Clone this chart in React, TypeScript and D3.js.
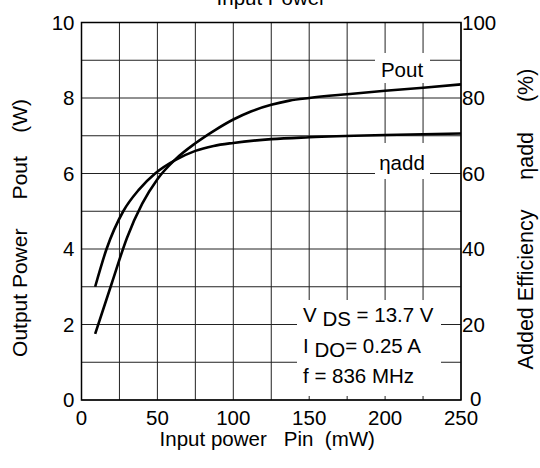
import React from "react";
import * as d3 from "d3";

const pinTicks = [0, 50, 100, 150, 200, 250];
const poutTicks = [0, 2, 4, 6, 8, 10];
const effTicks = [0, 20, 40, 60, 80, 100];

const poutPin = [9, 20, 30, 40, 50, 62, 75, 88, 100, 112, 125, 137, 150, 175, 200, 225, 250];
const poutVal = [1.75, 3.1, 4.3, 5.2, 5.85, 6.38, 6.8, 7.15, 7.43, 7.65, 7.82, 7.93, 8.0, 8.1, 8.19, 8.27, 8.36];

const effPin = [9, 16.5, 27.5, 38, 48.5, 62, 75, 87, 100, 125, 150, 200, 250];
const effVal = [30, 40, 50, 55.8, 60, 63.6, 66, 67.3, 68.1, 69.1, 69.6, 70.2, 70.6];

const W = 540, H = 468;
const L = 81.5, R = 461, T = 22.5, B = 400;
const FONT = "'Liberation Sans', Arial, Helvetica, sans-serif";
const FS = 20.5;

export default function App() {
  const x = d3.scaleLinear().domain([0, 250]).range([L, R]);
  const yL = d3.scaleLinear().domain([0, 10]).range([B, T]);
  const yR = d3.scaleLinear().domain([0, 100]).range([B, T]);

  const lineP = d3.line<number>().x((_, i) => x(poutPin[i])).y((d) => yL(d)).curve(d3.curveMonotoneX);
  const lineE = d3.line<number>().x((_, i) => x(effPin[i])).y((d) => yR(d)).curve(d3.curveMonotoneX);

  const xGrid = d3.range(0, 251, 25);
  const yGrid = d3.range(0, 11, 1);

  return (
    <svg width={W} height={H} style={{ position: "absolute", left: 0, top: 0, background: "#fff" }} fontFamily={FONT}>
      <rect x={0} y={0} width={W} height={H} fill="#fff" />
      {xGrid.map((v) => (
        <line key={"gx" + v} x1={x(v)} x2={x(v)} y1={T} y2={B} stroke="#222" strokeWidth={1} />
      ))}
      {yGrid.map((v) => (
        <line key={"gy" + v} x1={L} x2={R} y1={yL(v)} y2={yL(v)} stroke="#222" strokeWidth={1} />
      ))}
      <rect x={375} y={53} width={55} height={30} fill="#fff" />
      <rect x={375} y={143} width={55} height={36} fill="#fff" />
      <rect x={297} y={300} width={144} height={96} fill="#fff" />
      <path d={lineP(poutVal) || ""} fill="none" stroke="#000" strokeWidth={2.6} />
      <path d={lineE(effVal) || ""} fill="none" stroke="#000" strokeWidth={2.6} />
      <rect x={L} y={T} width={R - L} height={B - T} fill="none" stroke="#000" strokeWidth={1.5} />

      <g fontSize={FS} fill="#000">
        {poutTicks.map((v) => (
          <text key={"l" + v} x={L - 7} y={yL(v)} dy="0.36em" textAnchor="end">{v}</text>
        ))}
        {effTicks.map((v) => (
          <text key={"r" + v} x={v === 0 ? R + 9 : R + 1} y={yR(v)} dy={v === 0 ? "0.3em" : "0.36em"} textAnchor="start">{v}</text>
        ))}
        {pinTicks.map((v) => (
          <text key={"b" + v} x={x(v)} y={B + 25} textAnchor="middle">{v}</text>
        ))}
      </g>

      <text x={(L + R) / 2} y={5} fontSize={FS} textAnchor="middle">Input Power</text>
      <text x={(L + R) / 2 - 4} y={446} fontSize={FS} textAnchor="middle" style={{ whiteSpace: "pre" }}>{"Input power   Pin  (mW)"}</text>
      <text transform={`translate(27, 228) rotate(-90)`} fontSize={21} textAnchor="middle" style={{ whiteSpace: "pre" }}>{"Output Power     Pout    (W)"}</text>
      <text transform={`translate(533, 219) rotate(-90)`} fontSize={21.5} textAnchor="middle" style={{ whiteSpace: "pre" }}>{"Added Efficiency     ηadd     (%)"}</text>

      <text x={402} y={77} fontSize={FS} textAnchor="middle">Pout</text>
      <text x={402} y={170} fontSize={FS} textAnchor="middle">ηadd</text>

      <g fontSize={FS}>
        <text x={303} y={322} style={{ whiteSpace: "pre" }}>V<tspan dy={4}>{" DS"}</tspan><tspan dy={-4}>{" = 13.7 V"}</tspan></text>
        <text x={303} y={353} style={{ whiteSpace: "pre" }}>I<tspan dy={4}>{" DO"}</tspan><tspan dy={-4}>{"= 0.25 A"}</tspan></text>
        <text x={303} y={383} style={{ whiteSpace: "pre" }}>{"f = 836 MHz"}</text>
      </g>
    </svg>
  );
}
